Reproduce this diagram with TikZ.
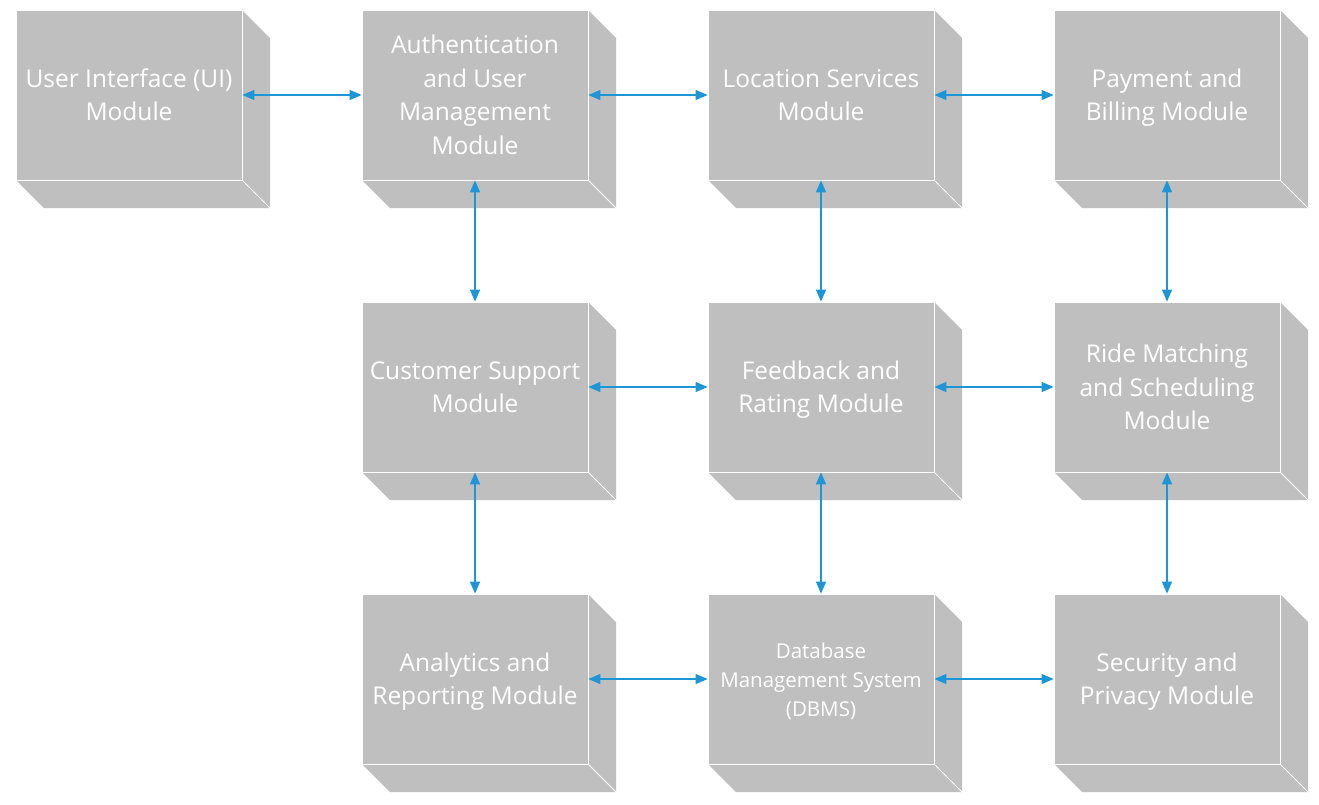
\documentclass[tikz,border=0pt]{standalone}
\usepackage{fontspec}
\setmainfont{Open Sans}
\usetikzlibrary{arrows.meta}
\definecolor{boxgray}{RGB}{191,191,191}
\definecolor{connblue}{RGB}{28,150,215}
\tikzset{
  modbox/.style={rectangle, fill=boxgray, draw=white, line width=0.8pt,
    minimum width=226pt, minimum height=170pt, inner sep=0pt,
    text=white, align=center, font=\fontsize{24.5}{33.5}\selectfont},
  smalltext/.style={font=\fontsize{20.5}{29}\selectfont},
  conn/.style={draw=connblue, line width=1.3pt,
    {Triangle[length=12pt,width=10pt]}-{Triangle[length=12pt,width=10pt]}},
}
\newcommand\modulebox[5][]{%
  \fill[boxgray] (#3,#4) ++(-113,-85) -- ++(226,0) -- ++(28,28) -- ++(0,170)
     -- ++(-226,0) -- ++(-28,-28) -- cycle;
  \node[modbox,#1] (#2) at (#3,#4) {};
  \node[modbox,#1,fill=none,draw=none] (#2-label) at ([yshift=-2.5pt]#2.center) {\strut #5\strut};
  \draw[white, line width=0.8pt] (#2.south east) -- ++(28,28);
}
\begin{document}
\begin{tikzpicture}[x=1pt,y=-1pt]
\useasboundingbox (0,0) rectangle (1319,804);
\modulebox{ui}{129}{95}{User Interface (UI)\\Module}
\modulebox{auth}{475}{95}{Authentication\\and User\\Management\\Module}
\modulebox{loc}{821}{95}{Location Services\\Module}
\modulebox{pay}{1167}{95}{Payment and\\Billing Module}
\modulebox{cs}{475}{387}{Customer Support\\Module}
\modulebox{fb}{821}{387}{Feedback and\\Rating Module}
\modulebox{ride}{1167}{387}{Ride Matching\\and Scheduling\\Module}
\modulebox{ana}{475}{679}{Analytics and\\Reporting Module}
\modulebox[smalltext]{db}{821}{679}{Database\\Management System\\(DBMS)}
\modulebox{sec}{1167}{679}{Security and\\Privacy Module}
\draw[conn] (ui.east) -- (auth.west);
\draw[conn] (auth.east) -- (loc.west);
\draw[conn] (loc.east) -- (pay.west);
\draw[conn] (auth.south) -- (cs.north);
\draw[conn] (loc.south) -- (fb.north);
\draw[conn] (pay.south) -- (ride.north);
\draw[conn] (cs.east) -- (fb.west);
\draw[conn] (fb.east) -- (ride.west);
\draw[conn] (cs.south) -- (ana.north);
\draw[conn] (fb.south) -- (db.north);
\draw[conn] (ride.south) -- (sec.north);
\draw[conn] (ana.east) -- (db.west);
\draw[conn] (db.east) -- (sec.west);
\end{tikzpicture}
\end{document}
